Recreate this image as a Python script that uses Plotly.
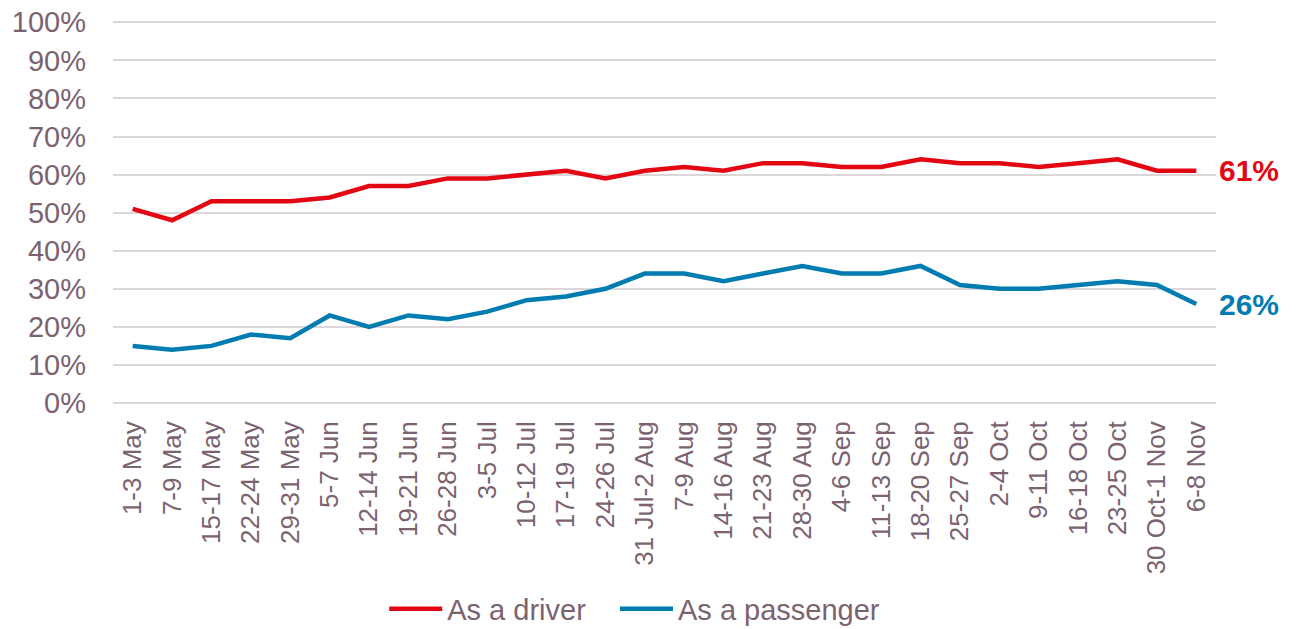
import plotly.graph_objects as go

weeks = ["1-3 May", "7-9 May", "15-17 May", "22-24 May", "29-31 May", "5-7 Jun",
         "12-14 Jun", "19-21 Jun", "26-28 Jun", "3-5 Jul", "10-12 Jul", "17-19 Jul",
         "24-26 Jul", "31 Jul-2 Aug", "7-9 Aug", "14-16 Aug", "21-23 Aug", "28-30 Aug",
         "4-6 Sep", "11-13 Sep", "18-20 Sep", "25-27 Sep", "2-4 Oct", "9-11 Oct",
         "16-18 Oct", "23-25 Oct", "30 Oct-1 Nov", "6-8 Nov"]
driver = [51, 48, 53, 53, 53, 54, 57, 57, 59, 59, 60, 61, 59, 61, 62, 61, 63, 63,
          62, 62, 64, 63, 63, 62, 63, 64, 61, 61]
passenger = [15, 14, 15, 18, 17, 23, 20, 23, 22, 24, 27, 28, 30, 34, 34, 32, 34, 36,
             34, 34, 36, 31, 30, 30, 31, 32, 31, 26]
y_ticks = list(range(0, 101, 10))

RED = "#e30613"
BLUE = "#007cb0"
TXT = "#7b6370"
GRID = "#dcd6d9"
FONT = "Liberation Sans, Arial, sans-serif"
PAD = "\u00a0\u00a0\u00a0"

fig = go.Figure()
fig.add_trace(go.Scatter(x=weeks, y=driver, mode="lines", name="As a driver" + PAD,
                         line=dict(color=RED, width=4.5)))
fig.add_trace(go.Scatter(x=weeks, y=passenger, mode="lines", name="As a passenger",
                         line=dict(color=BLUE, width=4.5)))

fig.add_annotation(x=weeks[-1], y=driver[-1], text=f"<b>{driver[-1]}%</b>",
                   showarrow=False, xanchor="left", xshift=21,
                   font=dict(color=RED, size=30, family=FONT))
fig.add_annotation(x=weeks[-1], y=passenger[-1], text=f"<b>{passenger[-1]}%</b>",
                   showarrow=False, xanchor="left", xshift=21,
                   font=dict(color=BLUE, size=30, family=FONT))

fig.update_layout(
    width=1299, height=629,
    margin=dict(l=113, r=83, t=20, b=226, autoexpand=False),
    plot_bgcolor="white", paper_bgcolor="white",
    font=dict(family=FONT, color=TXT),
    showlegend=True,
    legend=dict(orientation="h", x=0.473, xanchor="center", yref="container",
                y=0.032, yanchor="middle",
                font=dict(size=29, color=TXT, family=FONT), itemwidth=53,
                tracegroupgap=0),
    xaxis=dict(tickangle=-90, tickfont=dict(size=26, color=TXT), showgrid=False,
               showline=False, ticks="", range=[-0.5, len(weeks) - 0.5],
               ticklabelstandoff=12, automargin=False),
    yaxis=dict(range=[0, 100.6], tickvals=y_ticks, ticktext=[f"{v}%" for v in y_ticks],
               tickfont=dict(size=29, color=TXT), gridcolor=GRID, gridwidth=2,
               zeroline=True, zerolinecolor=GRID, zerolinewidth=2,
               showline=False, ticks="", ticklabelstandoff=26, automargin=False,
               ticklabeloverflow="allow"),
)

fig.write_html("out.html", config={"displayModeBar": False},
               post_script="document.body.style.margin='0';")
